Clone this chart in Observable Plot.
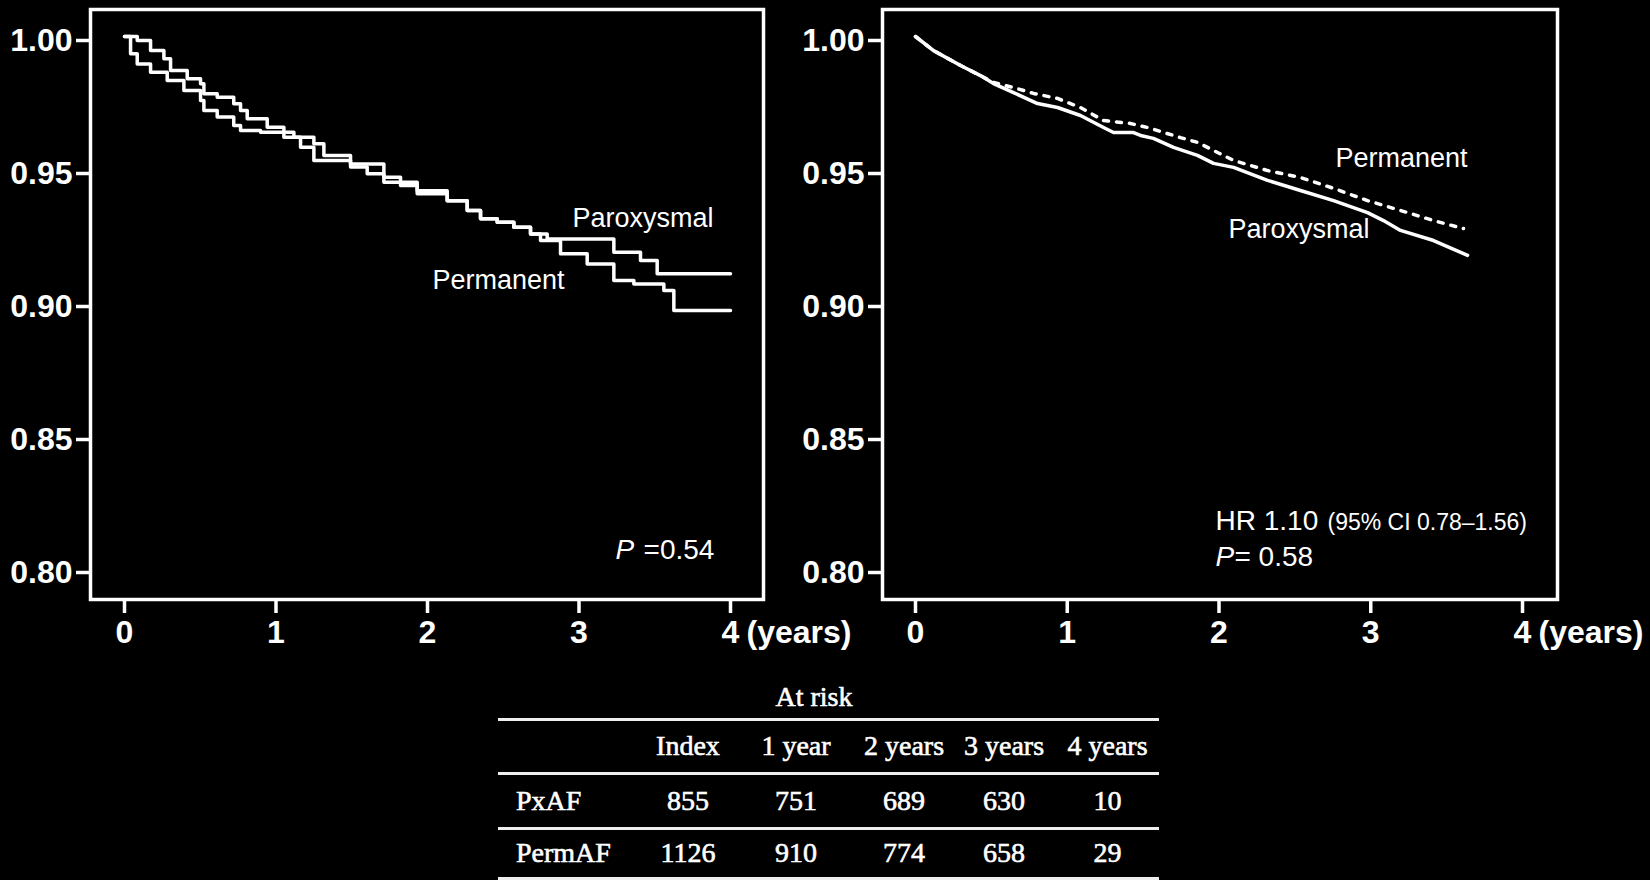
<!DOCTYPE html>
<html>
<head>
<meta charset="utf-8">
<script src="https://cdn.jsdelivr.net/npm/d3@7"></script>
<script src="https://cdn.jsdelivr.net/npm/@observablehq/plot@0.6"></script>
<style>
  html, body { margin: 0; padding: 0; background: #000; }
  #wrap { position: relative; width: 1650px; height: 880px; background: #000; overflow: hidden; }
  .panel { position: absolute; top: 0; }
  #left { left: 0; width: 870px; }
  #right { left: 792px; width: 858px; }
  #atrisk { position: absolute; left: 714px; width: 200px; top: 681px; line-height: 32px; text-align: center;
            font-family: 'Liberation Serif', 'Times New Roman', serif; font-size: 28px; color: #fff;
            -webkit-text-stroke: 0.6px #fff; }
  #risk { position: absolute; left: 498px; top: 717.5px; width: 661px; border-collapse: separate; border-spacing: 0;
          table-layout: fixed; font-family: 'Liberation Serif', 'Times New Roman', serif; font-size: 28px; color: #fff;
          -webkit-text-stroke: 0.6px #fff; }
  #risk td { padding: 0; text-align: center; white-space: nowrap; border-bottom: 3px solid #eee; vertical-align: middle; }
  #risk tr:first-of-type td { border-top: 3px solid #eee; }
  #risk td:first-child { text-align: left; padding-left: 18px; }
</style>
</head>
<body>
<div id="wrap">
  <div id="left" class="panel"></div>
  <div id="right" class="panel"></div>
  <div id="atrisk">At risk</div>
  <table id="risk"></table>
</div>
<script>
// ---- axes ----
const yearTicks = [0, 1, 2, 3, 4];
const survivalTicks = [0.80, 0.85, 0.90, 0.95, 1.00];

// ---- left panel (unadjusted Kaplan–Meier), [years, survival] ----
const leftParoxysmal = [
  [0, 1.0], [0.040, 0.9935], [0.084, 0.9897], [0.172, 0.9866], [0.282, 0.9835], [0.392, 0.9797],
  [0.502, 0.9759], [0.524, 0.9722], [0.612, 0.9697], [0.721, 0.9665], [0.766, 0.9647], [0.898, 0.9640],
  [1.052, 0.9621], [1.162, 0.9584], [1.250, 0.9534], [1.382, 0.9534], [1.492, 0.9509], [1.602, 0.9484],
  [1.712, 0.9452], [1.822, 0.9440], [1.932, 0.9409], [2.130, 0.9383], [2.262, 0.9346], [2.350, 0.9315],
  [2.460, 0.9302], [2.570, 0.9283], [2.680, 0.9258], [2.790, 0.9239], [3.120, 0.9239], [3.230, 0.9189],
  [3.406, 0.9158], [3.516, 0.9108], [4.0, 0.9108]
];
const leftPermanent = [
  [0, 1.0], [0.084, 0.9985], [0.172, 0.9947], [0.260, 0.9916], [0.304, 0.9872], [0.414, 0.9841],
  [0.502, 0.9822], [0.524, 0.9785], [0.612, 0.9772], [0.721, 0.9747], [0.766, 0.9722], [0.810, 0.9691],
  [0.942, 0.9659], [1.052, 0.9640], [1.118, 0.9621], [1.250, 0.9597], [1.316, 0.9553], [1.492, 0.9521],
  [1.712, 0.9471], [1.822, 0.9452], [1.932, 0.9420], [2.130, 0.9383], [2.262, 0.9346], [2.350, 0.9315],
  [2.460, 0.9302], [2.570, 0.9283], [2.680, 0.9258], [2.746, 0.9233], [2.878, 0.9183], [3.054, 0.9145],
  [3.230, 0.9083], [3.362, 0.9070], [3.560, 0.9045], [3.626, 0.8970], [4.0, 0.8970]
];

// ---- right panel (adjusted), [years, survival] ----
const rightParoxysmal = [
  [0, 1.0], [0.119, 0.9947], [0.297, 0.9891], [0.428, 0.9853], [0.514, 0.9823], [0.646, 0.9789],
  [0.804, 0.9748], [0.936, 0.9733], [1.087, 0.9703], [1.239, 0.9658], [1.305, 0.9639], [1.437, 0.9639],
  [1.483, 0.9628], [1.568, 0.9617], [1.700, 0.9583], [1.858, 0.9553], [1.964, 0.9523], [2.096, 0.9508],
  [2.320, 0.9459], [2.537, 0.9421], [2.755, 0.9383], [2.979, 0.9338], [3.084, 0.9308], [3.196, 0.9271],
  [3.414, 0.9233], [3.638, 0.9177]
];
const rightPermanent = [
  [0, 1.0], [0.119, 0.9947], [0.297, 0.9891], [0.428, 0.9853], [0.514, 0.9827], [0.646, 0.9808],
  [0.778, 0.9786], [0.936, 0.9767], [1.087, 0.9733], [1.239, 0.9684], [1.417, 0.9673], [1.529, 0.9658],
  [1.746, 0.9620], [1.858, 0.9602], [2.096, 0.9534], [2.320, 0.9496], [2.537, 0.9470], [2.755, 0.9429],
  [2.979, 0.9383], [3.196, 0.9346], [3.414, 0.9308], [3.611, 0.9278]
];

// ---- annotations: [years, survival (baseline), text, size, style] ----
const leftNotes = [
  [2.957, 0.9282, "Paroxysmal", 27, "normal"],
  [2.033, 0.9052, "Permanent", 27, "normal"],
  [3.241, 0.8036, "P", 28, "italic"],
  [3.426, 0.8036, "=0.54", 28, "normal"]
];
const rightNotes = [
  [2.768, 0.9509, "Permanent", 27, "normal"],
  [2.063, 0.9243, "Paroxysmal", 27, "normal"],
  [1.977, 0.8143, "HR 1.10", 28, "normal"],
  [2.715, 0.8143, "(95% CI 0.78–1.56)", 23, "normal"],
  [1.977, 0.8011, "P", 28, "italic"],
  [2.102, 0.8011, "= 0.58", 28, "normal"]
];
const unitLabel = [{t: 4, label: "(years)"}];

// ---- at-risk table ----
const riskColumns = ["Index", "1 year", "2 years", "3 years", "4 years"];
const riskGroups = ["PxAF", "PermAF"];
const riskPxAF = [855, 751, 689, 630, 10];
const riskPermAF = [1126, 910, 774, 658, 29];

const yDomain = [0.78835, 1.01015];

function panel({curves, notes, xDomain, width, marginRight}) {
  const noteMarks = notes.map(n => Plot.text([n], {
    x: d => d[0], y: d => d[1], text: d => d[2],
    fontSize: n[3], fontStyle: n[4], fontWeight: "normal",
    textAnchor: "start", lineAnchor: "bottom", fill: "white"
  }));
  return Plot.plot({
    width, height: 660,
    marginLeft: 90, marginRight, marginTop: 9, marginBottom: 61,
    style: {background: "transparent", color: "white", fontFamily: "'Liberation Sans', Arial, sans-serif",
            fontSize: "32px", fontWeight: "bold", overflow: "visible"},
    x: {domain: xDomain, label: null},
    y: {domain: yDomain, label: null},
    marks: [
      Plot.frame({stroke: "white", strokeWidth: 3.5}),
      Plot.axisX({ticks: yearTicks, tickFormat: d => String(d), tickSize: 14, tickPadding: 7,
                  fontSize: 32, fontWeight: "bold", strokeWidth: 3.5, label: null}),
      Plot.axisY({ticks: survivalTicks, tickFormat: d3.format(".2f"), tickSize: 14, tickPadding: 4,
                  fontSize: 32, fontWeight: "bold", strokeWidth: 3.5, dy: 4, label: null}),
      Plot.text(unitLabel, {x: "t", text: "label", frameAnchor: "bottom", dx: 16, dy: 21,
                            textAnchor: "start", lineAnchor: "top", fontSize: 32, fontWeight: "bold", fill: "white"}),
      ...curves,
      ...noteMarks
    ]
  });
}

const leftPlot = panel({
  width: 870, marginRight: 107, xDomain: [-0.2244, 4.2178], notes: leftNotes,
  curves: [
    Plot.line(leftPermanent, {x: d => d[0], y: d => d[1], curve: "step-after", stroke: "white", strokeWidth: 3.5}),
    Plot.line(leftParoxysmal, {x: d => d[0], y: d => d[1], curve: "step-after", stroke: "white", strokeWidth: 3.5})
  ]
});
const rightPlot = panel({
  width: 858, marginRight: 93, xDomain: [-0.2175, 4.2306], notes: rightNotes,
  curves: [
    Plot.line(rightPermanent, {x: d => d[0], y: d => d[1], stroke: "white", strokeWidth: 3.5, strokeDasharray: "5,8"}),
    Plot.line(rightParoxysmal, {x: d => d[0], y: d => d[1], stroke: "white", strokeWidth: 3.5})
  ]
});
document.getElementById("left").appendChild(leftPlot);
document.getElementById("right").appendChild(rightPlot);

// table
const table = document.getElementById("risk");
const colWidths = [142, 96, 120, 96, 104, 103];
const cg = document.createElement("colgroup");
colWidths.forEach(w => { const c = document.createElement("col"); c.style.width = w + "px"; cg.appendChild(c); });
table.appendChild(cg);
const rowHeights = [51, 52, 47];
const rows = [["", ...riskColumns], [riskGroups[0], ...riskPxAF], [riskGroups[1], ...riskPermAF]];
rows.forEach((r, i) => {
  const tr = document.createElement("tr");
  r.forEach(v => {
    const td = document.createElement("td");
    td.textContent = v;
    td.style.height = rowHeights[i] + "px";
    tr.appendChild(td);
  });
  table.appendChild(tr);
});
</script>
</body>
</html>
